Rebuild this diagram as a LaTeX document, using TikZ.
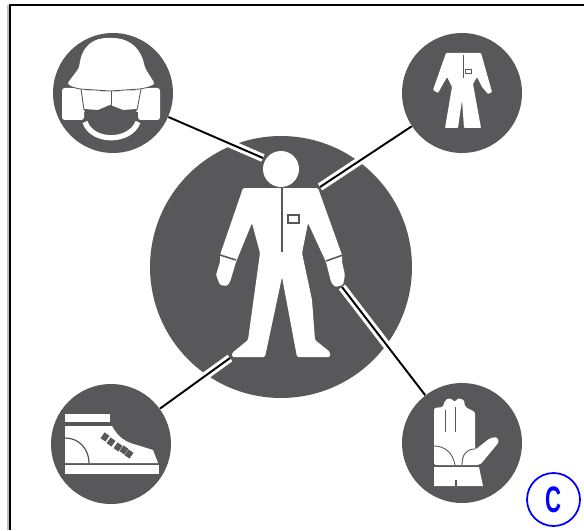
\documentclass[tikz,border=0pt]{standalone}
\usepackage{fontspec}
\setmainfont{Liberation Sans}
\usepackage{tikz}
\definecolor{discgray}{HTML}{58585A}
\tikzset{
	disc/.style={circle,fill=discgray,inner sep=0pt,minimum size=2.4cm},
	halo/.style={white,line width=4.6pt},
	link/.style={black,line width=1.1pt},
	cutline/.style={discgray,line width=0.7pt},
}

\begin{document}
\begin{tikzpicture}[x=0.02cm,y=-0.02cm]
	\useasboundingbox (0,0) rectangle (584,530);
	
	% Frame
	\draw[gray!50,line width=0.6pt] (8,5) -- (8,530);
	\draw[black,line width=1.4pt] (584,5) -- (10,5) -- (10,530);
	
	% Discs
	\node[disc,minimum size=5.24cm] (body) at (281,267) {};
	\node[disc] (helmet) at (113,93) {};
	\node[disc] (suit) at (462,93) {};
	\node[disc] (boot) at (111,444) {};
	\node[disc] (glove) at (462,443) {};
	
	% Connector ends
	\coordinate (headtip) at (263,158);
	\coordinate (shouldertip) at (320,187);
	\coordinate (foottip) at (230,358);
	\coordinate (handtip) at (342,287);
	
	% Connectors
	\foreach \from/\to in {helmet/headtip,suit/shouldertip,boot/foottip,glove/handtip} {
		\draw[halo] (\from) -- (\to);
		\draw[link] (\from) -- (\to);
	}
	
	% Large figure
	\node[circle,fill=white,inner sep=0pt,minimum size=0.72cm] (head) at (281,169) {};
	\fill[white,rounded corners=0.8pt] (243,188) -- (318,188) -- (342,255) -- (342,262) -- (345,275) -- (343,285) -- (335,287) -- (331,282) -- (326,262)
		-- (308,223) -- (302,253) -- (312,300) -- (315,340) -- (330,352) -- (330,357) -- (297,357) -- (282,277)
		-- (265,357) -- (232,357) -- (232,353) -- (248,340) -- (260,253) -- (252,223) -- (236,262) -- (230,282)
		-- (227,286) -- (220,285) -- (216,275) -- (220,262) -- (220,255) -- cycle;
	\draw[cutline] (282,188) -- (282,252);
	\draw[cutline] (288,215) rectangle (299,223);
	\draw[cutline,line width=0.9pt] (220,255) -- (236,260);
	\draw[cutline,line width=0.9pt] (343,255) -- (326,261);
	
	% Helmet
	\fill[white,rounded corners=1.5pt] (67,84) -- (79,68) .. controls (82,44) and (95,38) .. (110,38) .. controls (125,38) and (140,44) .. (145,68)
		-- (155,84) -- (140,90) -- (110,92) -- (80,90) -- cycle;
	\fill[white,rounded corners=1.5pt] (62,88) rectangle (84,120);
	\fill[white,rounded corners=1.5pt] (138,88) rectangle (160,120);
	\fill[white] (82,90) -- (110,92) -- (140,90) -- (138,112) -- (84,112) -- cycle;
	\fill[discgray] (84,109) -- (98,110) -- (110,105) -- (123,110) -- (137,109) -- (133,123) -- (110,132) -- (88,123) -- cycle;
	\draw[white,line width=3pt] (85,122) .. controls (92,143) and (130,143) .. (138,122);
	\draw[cutline,line width=0.5pt] (81,89) -- (84,110);
	\draw[cutline,line width=0.5pt] (141,89) -- (137,110);
	\draw[cutline,line width=0.5pt] (111,91) -- (111,107);
	\draw[cutline,line width=0.5pt] (67,86) -- (80,89) -- (110,91) -- (140,89) -- (155,86);
	
	% Small suit
	\fill[white,rounded corners=0.5pt] (446,53) -- (481,53) -- (492,92) -- (488,94) -- (482,87) -- (477,77) -- (473,84) -- (481,128) -- (464,128)
		-- (462,100) -- (458,128) -- (445,128) -- (452,87) -- (447,77) -- (438,93) -- (433,90) -- cycle;
	\draw[cutline,line width=0.4pt] (463,55) -- (463,78);
	\draw[cutline,line width=0.5pt] (465,69) rectangle (471,73);
	
	% Boot
	\fill[white] (65,414) rectangle (110,422);
	\fill[white] (65,426) -- (112,426) .. controls (118,437) and (125,442) .. (137,445) -- (153,450) -- (158,463) -- (65,463) -- cycle;
	\fill[white] (65,465) rectangle (159,474);
	\draw[cutline] (65,438) .. controls (80,438) and (89,450) .. (89,463);
	\foreach \x/\y in {105/437,111/442,118/447,124/450,129/454} {
		\fill[discgray,rotate around={-35:(\x,\y)}] (\x-3,\y-3.5) rectangle (\x+3,\y+3.5);
	}
	\draw[discgray,line width=0.5pt,dotted] (98,474) -- (159,474);
	
	% Glove
	\fill[white,rounded corners=1.2pt] (434,408) -- (443,407) -- (445,400) -- (450,398) -- (455,402) -- (458,398) -- (464,400) -- (465,407)
		-- (475,412) -- (475,450) -- (490,438) -- (497,437) -- (499,442) -- (480,465) -- (434,465) -- cycle;
	\fill[white] (434,467) -- (479,467) -- (483,486) -- (434,486) -- cycle;
	\draw[cutline,line width=0.5pt] (445,410) -- (445,432);
	\draw[cutline,line width=0.5pt] (455,407) -- (455,432);
	\draw[cutline,line width=0.5pt] (434,446) .. controls (445,446) and (453,453) .. (455,465);
	\draw[cutline,line width=0.5pt] (462,465) .. controls (462,455) and (466,449) .. (475,449);
	\draw[cutline] (456,480) -- (456,486);
	
	% Mark
	\node[circle,draw=blue,line width=1pt,inner sep=0pt,minimum size=1.06cm,text=blue] (mark) at (553.5,499.5)
		{\fontsize{21}{24}\selectfont\bfseries\scalebox{0.6}[1]{C}};
\end{tikzpicture}
\end{document}
